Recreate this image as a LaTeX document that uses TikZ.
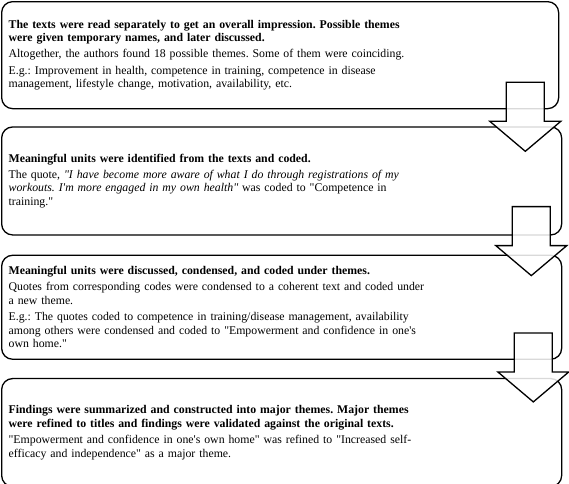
\documentclass[tikz,border=0pt]{standalone}
\usepackage{fontspec}
\setmainfont{Liberation Serif}[Ligatures=TeXOff]
\usetikzlibrary{calc,positioning}

\tikzset{
  stagebox/.style={draw, line width=1.3pt, rounded corners=11pt, align=left,
    inner xsep=7pt, inner ysep=4pt, anchor=north west,
    font=\fontsize{11.8}{13.6}\selectfont},
  flowarrow/.style={draw, line width=1.3pt, fill=white, fill opacity=0.85},
  pics/downarrow/.style={code={
    \path[flowarrow] (-19,0) -- (19,0) -- (19,-39) -- (35.5,-39) -- (0,-69)
      -- (-35.5,-39) -- (-19,-39) -- cycle;}}
}

\begin{document}
\frenchspacing
\begin{tikzpicture}[x=1pt,y=1pt]
  \useasboundingbox (0,0) rectangle (569,-483);

  %stage 1
  \node[stagebox, text width=543pt, minimum height=107pt] (b1) at (1,-1)
    {\textbf{The texts were read separately to get an overall impression. Possible themes\\
     were given temporary names, and later discussed.}\\[2.5pt]
     Altogether, the authors found 18 possible themes. Some of them were coinciding.\\[2.5pt]
     E.g.: Improvement in health, competence in training, competence in disease\\
     management, lifestyle change, motivation, availability, etc.};

  %stage 2
  \node[stagebox, text width=546pt, minimum height=108pt,
        below=17pt of b1.south west, anchor=north west] (b2)
    {\textbf{Meaningful units were identified from the texts and coded.}\\[2.5pt]
     The quote, \textit{"I have become more aware of what I do through registrations of my\\
     workouts. I'm more engaged in my own health"} was coded to "Competence in\\
     training."};

  %stage 3
  \node[stagebox, text width=546pt, minimum height=104pt,
        below=19pt of b2.south west, anchor=north west] (b3)
    {\textbf{Meaningful units were discussed, condensed, and coded under themes.}\\[2.5pt]
     Quotes from corresponding codes were condensed to a coherent text and coded under\\
     a new theme.\\[2.5pt]
     E.g.: The quotes coded to competence in training/disease management, availability\\
     among others were condensed and coded to "Empowerment and confidence in one's\\
     own home."};

  %stage 4
  \node[stagebox, text width=546pt, minimum height=108pt,
        below=18pt of b3.south west, anchor=north west] (b4)
    {\textbf{Findings were summarized and constructed into major themes. Major themes\\
     were refined to titles and findings were validated against the original texts.}\\[2.5pt]
     "Empowerment and confidence in one's own home" was refined to "Increased self-\\
     efficacy and independence" as a major theme.};

  %arrows
  \pic at ($(b1.south east)+(-34,27)$) {downarrow};
  \pic at ($(b2.south east)+(-31,29)$) {downarrow};
  \pic at ($(b3.south east)+(-29,27)$) {downarrow};
\end{tikzpicture}
\end{document}
